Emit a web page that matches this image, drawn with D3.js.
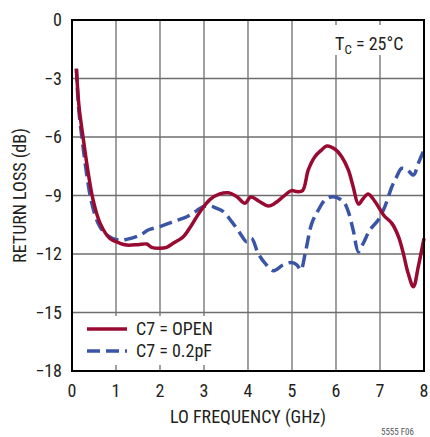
<!DOCTYPE html>
<html>
<head>
<meta charset="utf-8">
<script src="https://cdn.jsdelivr.net/npm/d3@7"></script>
<style>
  body { margin: 0; background: #fff; }
  svg text { font-family: "Liberation Sans Narrow", "Arial Narrow", "Roboto Condensed", sans-serif; fill: #231f20; }
</style>
</head>
<body>
<div id="chart"></div>
<script>
// frequency (GHz) and return loss (dB)
const openFreq = [0.1, 0.16, 0.26, 0.37, 0.48, 0.64, 0.86, 1.09, 1.24, 1.5, 1.7, 1.81, 2.0, 2.15, 2.3, 2.53, 2.72, 2.91, 3.14, 3.36, 3.55, 3.74, 3.93, 4.06, 4.27, 4.46, 4.61, 4.8, 4.99, 5.11, 5.24, 5.37, 5.52, 5.67, 5.79, 5.98, 6.13, 6.28, 6.39, 6.51, 6.62, 6.73, 6.89, 7.08, 7.27, 7.42, 7.53, 7.64, 7.76, 7.87, 8.0];
const openLoss = [-2.5, -4.44, -6.15, -7.86, -9.23, -10.43, -11.2, -11.45, -11.54, -11.52, -11.49, -11.66, -11.71, -11.66, -11.45, -11.11, -10.51, -9.83, -9.2, -8.92, -8.86, -9.05, -9.4, -9.08, -9.32, -9.54, -9.4, -9.06, -8.75, -8.8, -8.75, -7.69, -7.01, -6.67, -6.46, -6.63, -7.01, -7.69, -8.55, -9.44, -9.15, -8.92, -9.32, -10.0, -10.43, -11.11, -11.97, -12.99, -13.68, -12.65, -11.2];

const capFreq = [0.1, 0.15, 0.24, 0.34, 0.45, 0.61, 0.79, 1.05, 1.24, 1.55, 1.73, 2.0, 2.3, 2.61, 2.8, 2.98, 3.14, 3.29, 3.44, 3.63, 3.82, 3.97, 4.08, 4.23, 4.39, 4.58, 4.8, 4.99, 5.11, 5.2, 5.3, 5.45, 5.6, 5.75, 5.94, 6.17, 6.28, 6.39, 6.51, 6.62, 6.77, 6.96, 7.11, 7.27, 7.38, 7.49, 7.61, 7.76, 7.87, 8.0];
const capLoss = [-2.5, -4.5, -6.3, -8.0, -9.4, -10.5, -11.03, -11.28, -11.25, -11.03, -10.77, -10.6, -10.34, -10.09, -9.83, -9.57, -9.54, -9.66, -9.83, -10.34, -10.94, -11.37, -11.2, -11.97, -12.48, -12.86, -12.56, -12.44, -12.56, -12.82, -11.97, -10.43, -9.74, -9.23, -9.06, -9.32, -9.83, -10.77, -11.88, -11.45, -10.77, -10.26, -9.57, -8.55, -8.03, -7.61, -7.66, -7.95, -7.35, -6.67];

const xTicks = [0, 1, 2, 3, 4, 5, 6, 7, 8];
const yTicks = [0, -3, -6, -9, -12, -15, -18];
const seriesNames = ["C7 = OPEN", "C7 = 0.2pF"];

const width = 430, height = 437;
const margin = { top: 20, right: 6, bottom: 66, left: 72 };
const red = "#990a32", blue = "#3a55a6";

const svg = d3.select("#chart")
  .append("svg")
  .attr("width", width)
  .attr("height", height);

const x = d3.scaleLinear().domain([0, 8]).range([margin.left, width - margin.right]);
const y = d3.scaleLinear().domain([-18, 0]).range([height - margin.bottom, margin.top]);

// grid
svg.append("g")
  .selectAll("line.v")
  .data(xTicks.slice(1, -1))
  .enter()
  .append("line")
  .attr("x1", d => x(d)).attr("x2", d => x(d))
  .attr("y1", y(0)).attr("y2", y(-18))
  .attr("stroke", "#6d6e71").attr("stroke-width", 1.3);
svg.append("g")
  .selectAll("line.h")
  .data(yTicks.slice(1, -1))
  .enter()
  .append("line")
  .attr("x1", x(0)).attr("x2", x(8))
  .attr("y1", d => y(d)).attr("y2", d => y(d))
  .attr("stroke", "#6d6e71").attr("stroke-width", 1.3);

// white boxes behind the labels
svg.append("rect").attr("x", 330).attr("y", 25).attr("width", 72).attr("height", 30).attr("fill", "#fff");
svg.append("rect").attr("x", 78).attr("y", 316).attr("width", 148).attr("height", 49).attr("fill", "#fff");

// curves
const line = d3.line()
  .x(d => x(d[0]))
  .y(d => y(d[1]))
  .curve(d3.curveCatmullRom);

svg.append("path")
  .datum(d3.zip(capFreq, capLoss))
  .attr("d", line)
  .attr("fill", "none")
  .attr("stroke", blue)
  .attr("stroke-width", 3.5)
  .attr("stroke-dasharray", "13 6");

svg.append("path")
  .datum(d3.zip(openFreq, openLoss))
  .attr("d", line)
  .attr("fill", "none")
  .attr("stroke", red)
  .attr("stroke-width", 3.5);

// frame
svg.append("rect")
  .attr("x", x(0)).attr("y", y(0))
  .attr("width", x(8) - x(0)).attr("height", y(-18) - y(0))
  .attr("fill", "none").attr("stroke", "#000").attr("stroke-width", 2);

// tick labels
svg.append("g")
  .selectAll("text")
  .data(xTicks)
  .enter()
  .append("text")
  .attr("x", d => x(d))
  .attr("y", 397)
  .attr("text-anchor", "middle")
  .attr("font-size", 18)
  .text(d => d);
svg.append("g")
  .selectAll("text")
  .data(yTicks)
  .enter()
  .append("text")
  .attr("x", 62)
  .attr("y", d => y(d) + 6)
  .attr("text-anchor", "end")
  .attr("font-size", 18)
  .text(d => d < 0 ? "\u2212" + Math.abs(d) : d);

// axis titles
svg.append("text")
  .attr("x", x(4))
  .attr("y", 423)
  .attr("text-anchor", "middle")
  .attr("font-size", 18)
  .text("LO FREQUENCY (GHz)");
svg.append("text")
  .attr("transform", "translate(26," + y(-9) + ") rotate(-90)")
  .attr("text-anchor", "middle")
  .attr("font-size", 18)
  .text("RETURN LOSS (dB)");

// temperature note
const tc = svg.append("text").attr("x", 335).attr("y", 50).attr("font-size", 18);
tc.append("tspan").text("T");
tc.append("tspan").attr("font-size", 13).attr("dy", 4).text("C");
tc.append("tspan").attr("dy", -4).text(" = 25°C");

// legend
const legend = svg.append("g")
  .selectAll("g")
  .data(seriesNames)
  .enter()
  .append("g")
  .attr("transform", (d, i) => "translate(0," + (329 + i * 22) + ")");
legend.append("line")
  .attr("x1", 87).attr("x2", 127)
  .attr("stroke", (d, i) => i === 0 ? red : blue)
  .attr("stroke-width", 3.5)
  .attr("stroke-dasharray", (d, i) => i === 0 ? null : "13 6");
legend.append("text")
  .attr("x", 136).attr("y", 6)
  .attr("font-size", 18)
  .text(d => d);

svg.append("text")
  .attr("x", 414).attr("y", 435)
  .attr("text-anchor", "end")
  .attr("font-size", 9)
  .style("fill", "#555")
  .text("5555 F06");
</script>
</body>
</html>
